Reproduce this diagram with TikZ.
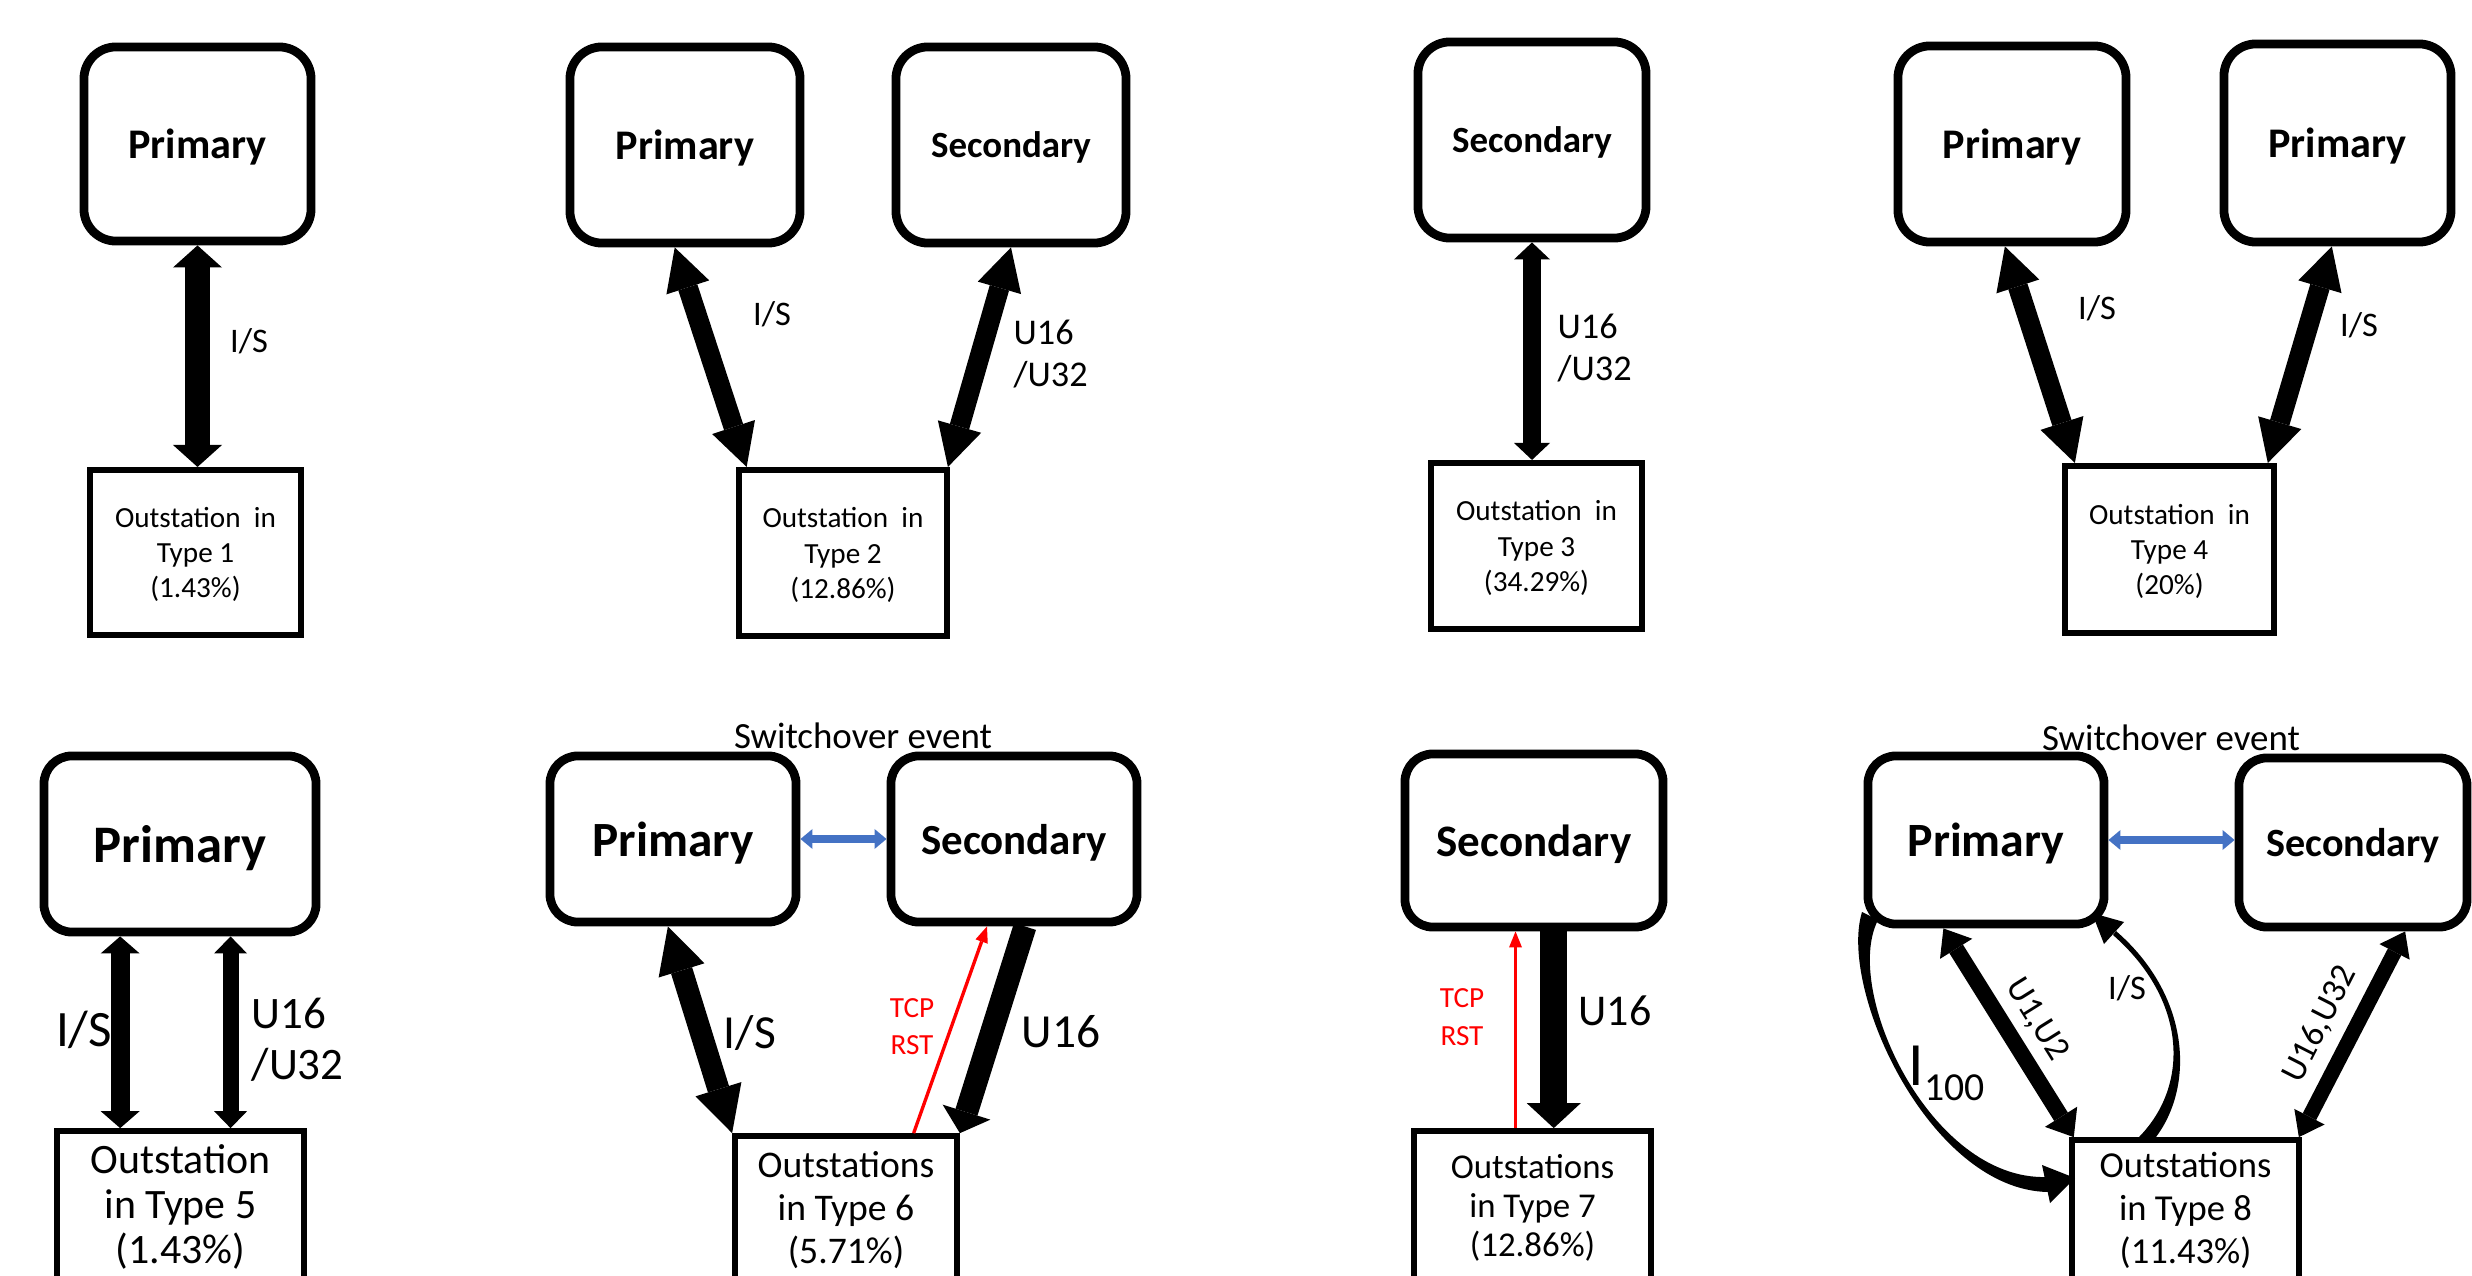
\documentclass[tikz,border=0pt]{standalone}
\usepackage{fontspec}
\setmainfont{Carlito}
\usepackage{xcolor}
\usetikzlibrary{arrows.meta,calc,positioning}

\definecolor{evblue}{RGB}{68,114,196}
\definecolor{rstred}{RGB}{255,0,0}
\newcommand{\fsz}[2]{\fontsize{#1}{#2}\selectfont}

\begin{document}
\begin{tikzpicture}[
	%	style def
	x=0.01cm, y=-0.01cm,
	ctrl/.style={draw, line width=2.5pt, rounded corners=0.32cm, inner sep=0pt, text depth=0pt},
	outst/.style={draw, line width=1.7pt, align=center, inner sep=0pt},
	lbl/.style={inner sep=0pt, align=left},
	dbl/.style n args={3}{line width=#1,
		{Triangle[width=#2,length=#3,line width=0pt]}-{Triangle[width=#2,length=#3,line width=0pt]}},
	sgl/.style n args={3}{line width=#1, -{Triangle[width=#2,length=#3,line width=0pt]}},
	rst/.style={rstred, line width=0.95pt, -{Triangle[width=0.13cm,length=0.16cm,line width=0pt]}},
	swlink/.style={evblue, line width=0.08cm,
		{Triangle[width=0.2cm,length=0.12cm,line width=0pt]}-{Triangle[width=0.2cm,length=0.12cm,line width=0pt]}}
	]
	\useasboundingbox (0,0) rectangle (2472,1276);
	\clip (0,0) rectangle (2472,1276);

	% type 1
	\node[ctrl, minimum width=2.27cm, minimum height=1.94cm, font=\bfseries\fsz{12}{14}] (p1) at (197.5,144) {Primary};
	\node[outst, text depth=0pt, minimum width=2.11cm, minimum height=1.65cm, font=\fsz{8.3}{10}] (o1) at (195.5,552.5) {Outstation\ \ in\\Type 1\\(1.43\%)};
	\draw[dbl={0.25cm}{0.49cm}{0.22cm}] (p1.south) -- (p1.south |- o1.north);
	\node[lbl, font=\fsz{9.8}{12}] (is1) at (249,341) {I/S};

	% type 2
	\node[ctrl, minimum width=2.3cm, minimum height=1.96cm, font=\bfseries\fsz{12}{14}] (p2) at (685,145) {Primary};
	\node[ctrl, minimum width=2.3cm, minimum height=1.96cm, font=\bfseries\fsz{10.5}{13}] (s2) at (1011,145) {Secondary};
	\node[outst, text depth=0pt, minimum width=2.08cm, minimum height=1.66cm, font=\fsz{8.3}{10}] (o2) at (843,553) {Outstation\ \ in\\Type 2\\(12.86\%)};
	\draw[dbl={0.2cm}{0.45cm}{0.42cm}] ($(p2.south west)!0.457!(p2.south east)$) -- ($(o2.north west)!0.05!(o2.north east)$);
	\draw[dbl={0.2cm}{0.45cm}{0.42cm}] (s2.south) -- ($(o2.north west)!0.99!(o2.north east)$);
	\node[lbl, font=\fsz{9.8}{12}] (is2) at (772,314) {I/S};
	\node[lbl, anchor=west, font=\fsz{10.3}{12.2}] (u2) at (1013,354) {U16\\/U32};

	% type 3
	\node[ctrl, minimum width=2.28cm, minimum height=1.96cm, font=\bfseries\fsz{10.5}{13}] (s3) at (1532,140) {Secondary};
	\node[outst, text depth=0pt, minimum width=2.11cm, minimum height=1.66cm, font=\fsz{8.3}{10}] (o3) at (1536.5,546) {Outstation\ \ in\\Type 3\\(34.29\%)};
	\draw[dbl={0.18cm}{0.36cm}{0.17cm}] (s3.south) -- (s3.south |- o3.north);
	\node[lbl, anchor=west, font=\fsz{10.3}{12.2}] (u3) at (1557,348) {U16\\/U32};

	% type 4
	\node[ctrl, minimum width=2.28cm, minimum height=1.96cm, font=\bfseries\fsz{12}{14}] (p4a) at (2012,144) {Primary};
	\node[ctrl, minimum width=2.27cm, minimum height=1.98cm, font=\bfseries\fsz{12}{14}] (p4b) at (2337.5,143) {Primary};
	\node[outst, text depth=0pt, minimum width=2.09cm, minimum height=1.67cm, font=\fsz{8.3}{10}] (o4) at (2169.5,549.5) {Outstation\ \ in\\Type 4\\(20\%)};
	\draw[dbl={0.2cm}{0.45cm}{0.42cm}] ($(p4a.south west)!0.47!(p4a.south east)$) -- ($(o4.north west)!0.06!(o4.north east)$);
	\draw[dbl={0.2cm}{0.45cm}{0.42cm}] ($(p4b.south west)!0.476!(p4b.south east)$) -- ($(o4.north west)!0.957!(o4.north east)$);
	\node[lbl, font=\fsz{9.8}{12}] (is4a) at (2097,308) {I/S};
	\node[lbl, font=\fsz{9.8}{12}] (is4b) at (2359,325) {I/S};

	% type 5
	\node[ctrl, minimum width=2.72cm, minimum height=1.76cm, rounded corners=0.28cm, font=\bfseries\fsz{15}{18}] (p5) at (180,844) {Primary};
	\node[outst, line width=1.6pt, minimum width=2.47cm, minimum height=1.52cm, font=\fsz{11.9}{12.8}] (o5) at (180.5,1207) {Outstation\\in Type 5\\(1.43\%)};
	\coordinate (a5l) at ($(p5.south west)!0.287!(p5.south east)$);
	\coordinate (a5r) at ($(p5.south west)!0.68!(p5.south east)$);
	\draw[dbl={0.19cm}{0.39cm}{0.17cm}] (a5l) -- (a5l |- o5.north);
	\draw[dbl={0.16cm}{0.33cm}{0.17cm}] (a5r) -- (a5r |- o5.north);
	\node[lbl, font=\fsz{14.5}{17}] (is5) at (84,1030) {I/S};
	\node[lbl, anchor=west, font=\fsz{12.8}{14.5}] (u5) at (251,1040) {U16\\/U32};

	% type 6
	\node[ctrl, minimum width=2.46cm, minimum height=1.66cm, rounded corners=0.28cm, font=\bfseries\fsz{14}{17}] (p6) at (673,839) {Primary};
	\node[ctrl, minimum width=2.46cm, minimum height=1.66cm, rounded corners=0.28cm, font=\bfseries\fsz{12.2}{15}] (s6) at (1014,839) {Secondary};
	\node[outst, line width=1.6pt, minimum width=2.22cm, minimum height=1.48cm, font=\fsz{10.7}{12.2}] (o6) at (846,1210) {Outstations\\in Type 6\\(5.71\%)};
	\node[lbl, font=\fsz{10.5}{12}] (sw6) at (863,736) {Switchover event};
	\draw[swlink] (p6.east) -- (s6.west);
	\draw[dbl={0.22cm}{0.48cm}{0.46cm}] ($(p6.south west)!0.48!(p6.south east)$) -- (o6.north west);
	\draw[sgl={0.23cm}{0.5cm}{0.22cm}] ($(s6.south west)!0.543!(s6.south east)$) -- (o6.north east);
	\draw[rst] ($(o6.north west)!0.797!(o6.north east)$) -- ($(s6.south west)!0.394!(s6.south east)$);
	\node[lbl, font=\fsz{13.5}{16}] (is6) at (750,1033) {I/S};
	\node[lbl, font=\fsz{13.5}{16}] (u6) at (1061,1032) {U16};
	\node[lbl, align=center, text=rstred, font=\fsz{8.3}{10.5}] (tcp6) at (912,1027) {TCP\\RST};

	% type 7
	\node[ctrl, minimum width=2.58cm, minimum height=1.73cm, rounded corners=0.28cm, font=\bfseries\fsz{12.8}{15}] (s7) at (1534,840.5) {Secondary};
	\node[outst, line width=1.6pt, minimum width=2.37cm, minimum height=1.54cm, font=\fsz{9.9}{11.1}] (o7) at (1532.5,1208) {Outstations\\in Type 7\\(12.86\%)};
	\coordinate (a7) at ($(s7.south west)!0.574!(s7.south east)$);
	\coordinate (r7) at ($(o7.north west)!0.43!(o7.north east)$);
	\draw[sgl={0.27cm}{0.54cm}{0.25cm}] (a7) -- (a7 |- o7.north);
	\draw[rst] (r7) -- (r7 |- s7.south);
	\node[lbl, align=center, text=rstred, font=\fsz{8.3}{10.8}] (tcp7) at (1462,1017) {TCP\\RST};
	\node[lbl, font=\fsz{12.5}{15}] (u7) at (1615,1011) {U16};

	% type 8
	\node[ctrl, minimum width=2.36cm, minimum height=1.68cm, rounded corners=0.28cm, font=\bfseries\fsz{13.6}{16}] (p8) at (1986,840) {Primary};
	\node[ctrl, minimum width=2.28cm, minimum height=1.69cm, rounded corners=0.28cm, font=\bfseries\fsz{11.4}{14}] (s8) at (2353,842.5) {Secondary};
	\node[outst, line width=1.6pt, minimum width=2.27cm, minimum height=1.4cm, font=\fsz{10.4}{12.2}] (o8) at (2185.5,1210) {Outstations\\in Type 8\\(11.43\%)};
	\node[lbl, font=\fsz{10.5}{12}] (sw8) at (2171,738) {Switchover event};
	\draw[swlink] (p8.east) -- (p8.east -| s8.west);
	\draw[dbl={0.16cm}{0.38cm}{0.24cm}] ($(p8.south west)!0.326!(p8.south east)$) -- ($(o8.north west)!0.02!(o8.north east)$);
	\draw[dbl={0.15cm}{0.34cm}{0.23cm}] ($(s8.south west)!0.72!(s8.south east)$) -- ($(o8.north west)!0.987!(o8.north east)$);
	% curved links
	\fill (1862,912) .. controls (1838,990) and (1930,1190) .. (2048,1192)
		-- (2046,1177) .. controls (1930,1180) and (1842,990) .. (1878,920) -- cycle;
	\fill (2042,1165) -- (2075,1178) -- (2050,1203) -- cycle;
	\fill (2156,1137) .. controls (2195,1085) and (2190,995) .. (2116,931)
		-- (2113,935) .. controls (2187,1000) and (2190,1085) .. (2139,1137) -- cycle;
	\fill (2092,913) -- (2104,944) -- (2124,922) -- cycle;
	\node[lbl, rotate=-58, font=\fsz{10}{12}] (u12) at (2037,1020) {U1,U2};
	\node[lbl, rotate=63, font=\fsz{10}{12}] (u1632) at (2320,1024) {U16,U32};
	\node[lbl, font=\fsz{9.8}{12}] (is8) at (2127,988) {I/S};
	\node[lbl, anchor=base west] (i100) at (1908,1085) {{\fsz{17.5}{20}I}\raisebox{-4.3pt}{\fsz{11.3}{13}100}};

\end{tikzpicture}
\end{document}
